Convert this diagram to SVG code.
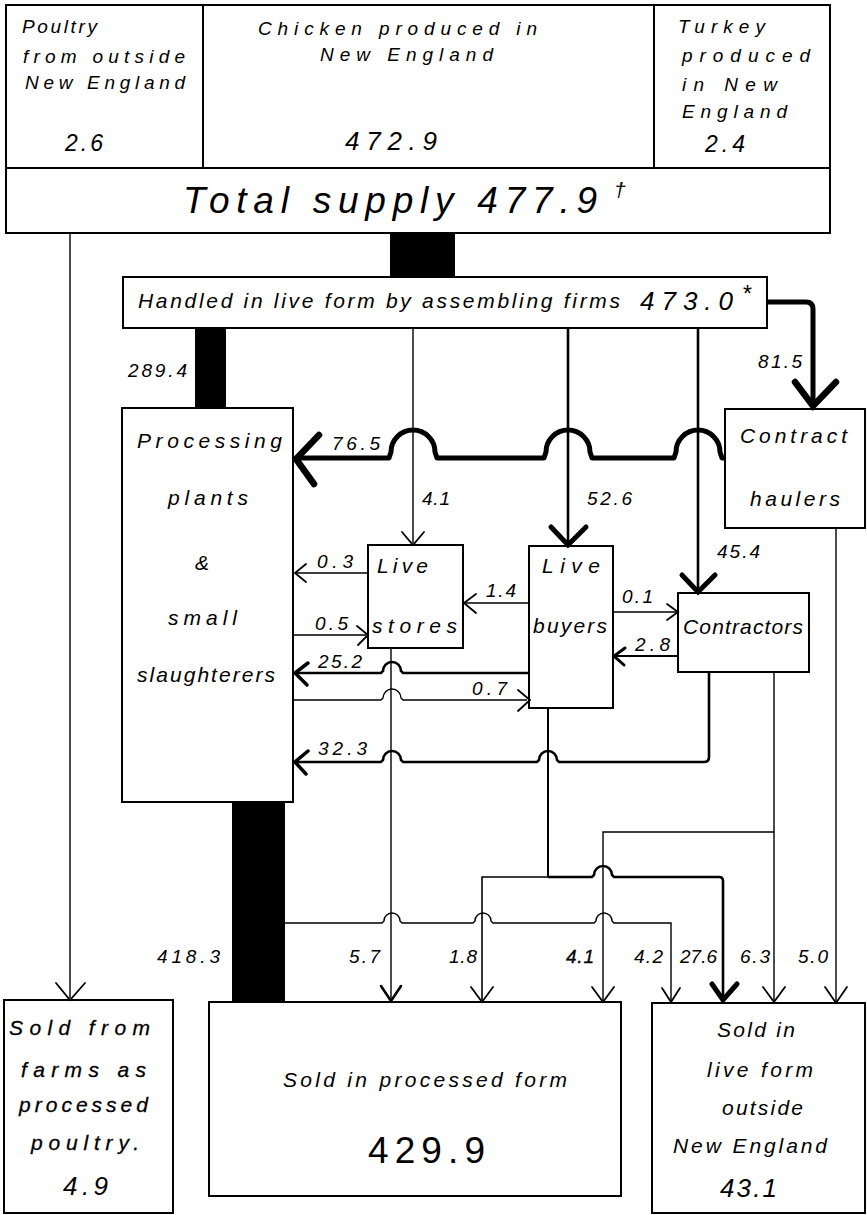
<svg xmlns="http://www.w3.org/2000/svg" width="867" height="1215" viewBox="0 0 867 1215">
<style>
.t{font-family:"Liberation Sans",Arial,sans-serif;font-style:italic;fill:#000}
.u{font-style:normal}
.s18{font-size:18px}.s19{font-size:19px}.s21{font-size:21px}.s23{font-size:23px}.s26{font-size:26px}.s37{font-size:37px}
.b{fill:#fff;stroke:#000;stroke-width:2}
.ln{fill:none;stroke:#000;stroke-width:1.4}
.ln2{fill:none;stroke:#000;stroke-width:2.6}
.ln5{fill:none;stroke:#000;stroke-width:5;stroke-linejoin:round}
.ah{fill:none;stroke:#000;stroke-width:1.8;stroke-linecap:round}
.ah2{fill:none;stroke:#000;stroke-width:3.5;stroke-linecap:round}
.ah5{fill:none;stroke:#000;stroke-width:5;stroke-linecap:round}
.ah6{fill:none;stroke:#000;stroke-width:6.5;stroke-linecap:round}
.bar{fill:#000}
.bold{stroke:#000;stroke-width:0.3}
</style>
<rect width="867" height="1215" fill="#fff"/>
<g id="supply">
<rect class="b" x="6" y="5" width="824" height="228"/>
<line class="ln" x1="6" y1="168" x2="830" y2="168" style="stroke-width:2"/>
<line class="ln" x1="203" y1="5" x2="203" y2="168" style="stroke-width:2"/>
<line class="ln" x1="654" y1="5" x2="654" y2="168" style="stroke-width:2"/>
<text class="t s19" x="22" y="33" textLength="75" lengthAdjust="spacing">Poultry</text>
<text class="t s19" x="23" y="63" textLength="162" lengthAdjust="spacing">from outside</text>
<text class="t s19" x="25" y="89" textLength="160" lengthAdjust="spacing">New England</text>
<text class="t s23" x="65" y="151" textLength="38" lengthAdjust="spacing">2.6</text>
<text class="t s19" x="258" y="35" textLength="279" lengthAdjust="spacing">Chicken produced in</text>
<text class="t s19" x="320" y="61" textLength="173" lengthAdjust="spacing">New England</text>
<text class="t s26" x="345" y="150" textLength="92" lengthAdjust="spacing">472.9</text>
<text class="t s19" x="678" y="33" textLength="87" lengthAdjust="spacing">Turkey</text>
<text class="t s19" x="682" y="62" textLength="128" lengthAdjust="spacing">produced</text>
<text class="t s19" x="682" y="91" textLength="95" lengthAdjust="spacing">in New</text>
<text class="t s19" x="682" y="118" textLength="105" lengthAdjust="spacing">England</text>
<text class="t s23" x="705" y="152" textLength="40" lengthAdjust="spacing">2.4</text>
<text class="t s37" x="183" y="213" textLength="414" lengthAdjust="spacing">Total supply 477.9</text>
<text class="t s21" x="614" y="197">†</text>
</g>
<g id="handled">
<rect class="b" x="123" y="277" width="644" height="51"/>
<text class="t s21" x="138" y="308" textLength="482" lengthAdjust="spacing">Handled in live form by assembling firms</text>
<text class="t s26" x="640" y="310" textLength="93" lengthAdjust="spacing">473.0</text>
<text class="t s23" x="742" y="302">*</text>
</g>
<g id="processing">
<rect class="b" x="122" y="408" width="171" height="394"/>
<text class="t s21" x="137" y="448" textLength="145" lengthAdjust="spacing">Processing</text>
<text class="t s21" x="168" y="505" textLength="80" lengthAdjust="spacing">plants</text>
<text class="t s21" x="195" y="570">&amp;</text>
<text class="t s21" x="168" y="625" textLength="69" lengthAdjust="spacing">small</text>
<text class="t s21" x="137" y="682" textLength="138" lengthAdjust="spacing">slaughterers</text>
</g>
<g id="haulers">
<rect class="b" x="725" y="409" width="140" height="119"/>
<text class="t s21" x="740" y="443" textLength="107" lengthAdjust="spacing">Contract</text>
<text class="t s21" x="750" y="506" textLength="90" lengthAdjust="spacing">haulers</text>
</g>
<g id="livestores">
<rect class="b" x="368" y="545" width="95" height="103"/>
<text class="t s21" x="377" y="573" textLength="51" lengthAdjust="spacing">Live</text>
<text class="t s21" x="372" y="633" textLength="85" lengthAdjust="spacing">stores</text>
</g>
<g id="livebuyers">
<rect class="b" x="529" y="546" width="84" height="162"/>
<text class="t s21" x="542" y="573" textLength="58" lengthAdjust="spacing">Live</text>
<text class="t s21" x="533" y="633" textLength="74" lengthAdjust="spacing">buyers</text>
</g>
<g id="contractors">
<rect class="b" x="678" y="593" width="131" height="79"/>
<text class="t s21" x="683" y="634" textLength="120" lengthAdjust="spacing">Contractors</text>
</g>
<g id="soldfarms">
<rect class="b" x="4" y="1000" width="169" height="213"/>
<text class="t s21 bold" x="9" y="1035" textLength="141" lengthAdjust="spacing">Sold from</text>
<text class="t s21 bold" x="21" y="1077" textLength="125" lengthAdjust="spacing">farms as</text>
<text class="t s21 bold" x="19" y="1112" textLength="129" lengthAdjust="spacing">processed</text>
<text class="t s21 bold" x="31" y="1150" textLength="108" lengthAdjust="spacing">poultry.</text>
<text class="t s26" x="63" y="1195" textLength="45" lengthAdjust="spacing">4.9</text>
</g>
<g id="soldprocessed">
<rect class="b" x="209" y="1002" width="412" height="194"/>
<text class="t s21" x="283" y="1087" textLength="284" lengthAdjust="spacing">Sold in processed form</text>
<text class="t u s37" x="368" y="1163" textLength="117" lengthAdjust="spacing">429.9</text>
</g>
<g id="soldlive">
<rect class="b" x="652" y="1003" width="213" height="210"/>
<text class="t s21" x="717" y="1037" textLength="78" lengthAdjust="spacing">Sold in</text>
<text class="t s21" x="707" y="1077" textLength="106" lengthAdjust="spacing">live form</text>
<text class="t s21" x="722" y="1115" textLength="81" lengthAdjust="spacing">outside</text>
<text class="t s21" x="673" y="1153" textLength="154" lengthAdjust="spacing">New England</text>
<text class="t s26" x="720" y="1197" textLength="57" lengthAdjust="spacing">43.1</text>
</g>
<g id="connectors">
<rect class="bar" x="390" y="233" width="65" height="44"/>
<rect class="bar" x="195" y="328" width="31" height="80"/>
<rect class="bar" x="232" y="802" width="53" height="200"/>
<path class="ln" d="M70,233 V998"/>
<path class="ah" d="M56,983 L70,1000 L85,983"/>
<path class="ln5" d="M767,302 H806 Q813,302 813,309 V404"/>
<path class="ah6" d="M795,382 L813,406 L836,382"/>
<path class="ln5" d="M725,458 H722 L720,452 A22 22 0 0 0 676,452 L674,458 H592 L590,452 A22 22 0 0 0 546,452 L544,458 H437 L435,452 A22 22 0 0 0 391,452 L389,458 H298"/>
<path class="ah6" d="M319,435 L296,459 L314,484"/>
<path class="ln" d="M413,328 V543"/>
<path class="ah" d="M402,532 L413,545 L424,532"/>
<path class="ln2" d="M568,328 V542"/>
<path class="ah5" d="M551,527 L568,545 L586,527"/>
<path class="ln2" d="M698,328 V589"/>
<path class="ah5" d="M682,575 L698,592 L715,575"/>
<path class="ln" d="M368,573 H296"/>
<path class="ah" d="M306,564 L295,573 L306,582"/>
<path class="ln" d="M293,635 H366"/>
<path class="ah" d="M357,626 L368,635 L358,645"/>
<path class="ln" d="M529,603 H466"/>
<path class="ah" d="M476,594 L464,603 L476,613"/>
<path class="ln2" d="M529,673 H403 L401,671 A9 9 0 0 0 383,671 L381,673 H297"/>
<path class="ah2" d="M308,663 L295,673 L307,685"/>
<path class="ln" d="M293,700 H381 L383,698 A9 9 0 0 1 401,698 L403,700 H527"/>
<path class="ah" d="M518,690 L530,700 L518,711"/>
<path class="ln2" d="M709,672 V757 Q709,762 704,762 H559 L557,760 A9 9 0 0 0 539,760 L537,762 H403 L401,760 A9 9 0 0 0 383,760 L381,762 H297"/>
<path class="ah2" d="M308,751 L295,762 L306,774"/>
<path class="ln" d="M613,612 H676"/>
<path class="ah" d="M667,604 L678,612 L667,620"/>
<path class="ln" d="M678,656 H616" style="stroke-width:2.2"/>
<path class="ah2" d="M625,648 L614,656 L624,665" style="stroke-width:3"/>
<path class="ln" d="M391,648 V999"/>
<path class="ah2" d="M381,986 L391,1001 L401,986" style="stroke-width:2.6"/>
<path class="ln2" d="M548,708 V877" style="stroke-width:2"/>
<path class="ln" d="M548,877 H482 V1000" style="stroke-width:1.6"/>
<path class="ah" d="M471,987 L482,1002 L493,987"/>
<path class="ln2" d="M548,877 H592 L594,875 A9 9 0 0 1 612,875 L614,877 H719 Q723,877 723,881 V997"/>
<path class="ah5" d="M712,984 L723,1000 L737,984"/>
<path class="ln" d="M774,672 V1000"/>
<path class="ah" d="M763,987 L774,1002 L785,987"/>
<path class="ln" d="M774,832 H603 V1000"/>
<path class="ah" d="M592,987 L603,1002 L614,987"/>
<path class="ln" d="M836,528 V1001"/>
<path class="ah" d="M825,987 L836,1003 L847,987"/>
<path class="ln" d="M285,923 H382 L384,921 A8 8 0 0 1 400,921 L402,923 H473 L475,921 A8 8 0 0 1 491,921 L493,923 H594 L596,921 A8 8 0 0 1 612,921 L614,923 H671 V1001"/>
<path class="ah" d="M662,988 L671,1002 L680,988"/>
<text class="t s19" x="128" y="377" textLength="59" lengthAdjust="spacing">289.4</text>
<text class="t s19" x="758" y="368" textLength="44" lengthAdjust="spacing">81.5</text>
<text class="t s19" x="332" y="450" textLength="48" lengthAdjust="spacing">76.5</text>
<text class="t s19" x="422" y="505" textLength="28" lengthAdjust="spacing">4.1</text>
<text class="t s19" x="587" y="505" textLength="45" lengthAdjust="spacing">52.6</text>
<text class="t s19" x="717" y="558" textLength="43" lengthAdjust="spacing">45.4</text>
<text class="t s19" x="317" y="568" textLength="36" lengthAdjust="spacing">0.3</text>
<text class="t s19" x="315" y="630" textLength="33" lengthAdjust="spacing">0.5</text>
<text class="t s19" x="486" y="597" textLength="30" lengthAdjust="spacing">1.4</text>
<text class="t s19" x="318" y="668" textLength="44" lengthAdjust="spacing">25.2</text>
<text class="t s19" x="472" y="695" textLength="35" lengthAdjust="spacing">0.7</text>
<text class="t s19" x="318" y="755" textLength="49" lengthAdjust="spacing">32.3</text>
<text class="t s19" x="622" y="603" textLength="31" lengthAdjust="spacing">0.1</text>
<text class="t s19" x="635" y="651" textLength="35" lengthAdjust="spacing">2.8</text>
<text class="t s19" x="157" y="963" textLength="63" lengthAdjust="spacing">418.3</text>
<text class="t s19" x="349" y="963" textLength="31" lengthAdjust="spacing">5.7</text>
<text class="t s19" x="449" y="963" textLength="28" lengthAdjust="spacing">1.8</text>
<text class="t s19 bold" x="566" y="963" textLength="28" lengthAdjust="spacing">4.1</text>
<text class="t s19" x="634" y="963" textLength="29" lengthAdjust="spacing">4.2</text>
<text class="t s19" x="680" y="963" textLength="37" lengthAdjust="spacing">27.6</text>
<text class="t s19" x="740" y="963" textLength="30" lengthAdjust="spacing">6.3</text>
<text class="t s19" x="798" y="963" textLength="30" lengthAdjust="spacing">5.0</text>
</g>
</svg>
